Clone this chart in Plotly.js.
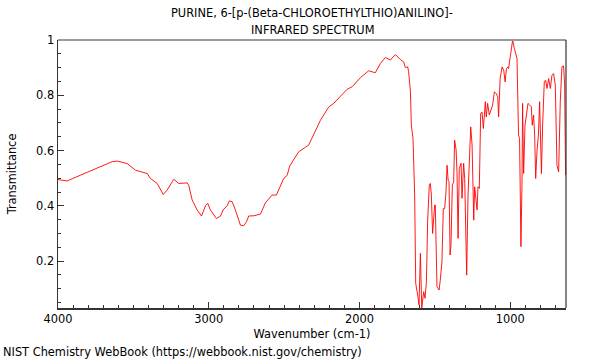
<!DOCTYPE html>
<html>
<head>
<meta charset="utf-8">
<script src="https://cdn.plot.ly/plotly-3.0.1.min.js"></script>
<style>html,body{margin:0;padding:0;background:#fff;}#chart{width:600px;height:360px;}</style>
</head>
<body>
<div id="chart"></div>
<script>
const wavenumber = [4000,3939,3851,3785,3696,3640,3607,3541,3486,3408,3387,3342,3302,3276,3232,3199,3143,3133,3110,3077,3048,3022,3007,2989,2949,2922,2905,2878,2863,2845,2823,2790,2768,2750,2735,2702,2657,2624,2580,2551,2503,2480,2463,2403,2359,2337,2259,2204,2171,2082,2049,1994,1939,1895,1861,1828,1795,1762,1729,1707,1696,1680,1674,1662,1656,1645,1634,1627,1614,1605,1596,1587,1574,1565,1556,1548,1537,1530,1523,1515,1501,1497,1486,1472,1464,1453,1444,1435,1426,1419,1412,1406,1399,1393,1384,1375,1369,1359,1353,1346,1338,1331,1326,1320,1309,1302,1293,1289,1280,1271,1262,1253,1246,1242,1236,1227,1220,1214,1205,1196,1187,1178,1169,1165,1159,1150,1139,1130,1117,1105,1094,1083,1077,1067,1054,1043,1034,1025,1014,1011,1000,984,973,964,955,945,938,929,922,918,911,902,893,882,871,860,854,845,838,831,822,813,805,793,785,774,765,756,745,734,723,712,701,690,679,668,657,646,639,633];
const transmittance = [0.495,0.49,0.511,0.527,0.547,0.56,0.562,0.553,0.529,0.517,0.499,0.481,0.441,0.457,0.496,0.481,0.483,0.475,0.421,0.385,0.363,0.40,0.409,0.385,0.354,0.363,0.385,0.40,0.418,0.415,0.385,0.33,0.328,0.342,0.363,0.364,0.37,0.411,0.439,0.439,0.499,0.51,0.544,0.596,0.612,0.62,0.71,0.758,0.771,0.822,0.831,0.864,0.889,0.882,0.916,0.937,0.928,0.948,0.93,0.921,0.901,0.903,0.885,0.813,0.692,0.644,0.439,0.119,0.077,0.041,0.228,0.03,0.089,0.065,0.125,0.342,0.475,0.481,0.439,0.30,0.403,0.403,0.107,0.095,0.131,0.197,0.39,0.39,0.451,0.547,0.493,0.487,0.222,0.258,0.475,0.487,0.638,0.602,0.523,0.282,0.535,0.554,0.554,0.427,0.554,0.499,0.185,0.149,0.439,0.56,0.686,0.62,0.451,0.348,0.469,0.403,0.385,0.469,0.463,0.735,0.74,0.68,0.759,0.777,0.722,0.771,0.729,0.747,0.765,0.813,0.807,0.795,0.722,0.861,0.903,0.891,0.849,0.897,0.903,0.897,0.94,1.0,0.97,0.952,0.934,0.656,0.644,0.252,0.475,0.771,0.517,0.692,0.729,0.771,0.765,0.759,0.692,0.729,0.656,0.499,0.602,0.656,0.777,0.517,0.692,0.849,0.855,0.825,0.861,0.825,0.873,0.879,0.837,0.547,0.523,0.777,0.903,0.907,0.837,0.511];
const titleLines = ['PURINE, 6-[p-(Beta-CHLOROETHYLTHIO)ANILINO]-', 'INFRARED SPECTRUM'];
const xTitle = 'Wavenumber (cm-1)';
const yTitle = 'Transmittance';
const footer = 'NIST Chemistry WebBook (https://webbook.nist.gov/chemistry)';

const F = 'DejaVu Sans, sans-serif';
const txt = {family: F, size: 11.4, color: '#000'};
const trace = {
  x: wavenumber, y: transmittance, type: 'scatter', mode: 'lines',
  line: {color: '#ff0000', width: 0.9}, hoverinfo: 'skip'
};
const layout = {
  width: 600, height: 360,
  margin: {l: 57.5, r: 34, t: 40, b: 52},
  paper_bgcolor: '#fff', plot_bgcolor: '#fff',
  font: txt,
  showlegend: false,
  xaxis: {
    range: [4000, 630], dtick: 1000, tick0: 0,
    showgrid: false, zeroline: false,
    showline: true, linecolor: '#333', linewidth: 1.5, mirror: false,
    ticks: 'inside', ticklen: 6, tickcolor: '#333',
    minor: {dtick: 100, ticks: 'inside', ticklen: 3, tickcolor: '#333', showgrid: false},
    tickfont: txt,
    title: {text: xTitle, standoff: 5, font: txt}
  },
  yaxis: {
    range: [0.03, 1.0005], dtick: 0.2, tick0: 0,
    showgrid: false, zeroline: false,
    showline: true, linecolor: '#333', linewidth: 1.5, mirror: false,
    ticks: 'inside', ticklen: 6, tickcolor: '#333',
    minor: {dtick: 0.05, ticks: 'inside', ticklen: 3, tickcolor: '#333', showgrid: false},
    tickfont: txt,
    title: {text: yTitle, standoff: 17, font: txt}
  },
  shapes: [
    {type: 'line', xref: 'paper', yref: 'paper', x0: 0, x1: 1, y0: 1, y1: 1, line: {color: '#999', width: 2}},
    {type: 'line', xref: 'paper', yref: 'paper', x0: 1, x1: 1, y0: 0, y1: 1, line: {color: '#333', width: 1.2}}
  ],
  annotations: [
    {text: titleLines[0], xref: 'paper', yref: 'paper', x: 0.5, xanchor: 'center', y: 1, yanchor: 'middle', yshift: 27, showarrow: false, font: txt},
    {text: titleLines[1], xref: 'paper', yref: 'paper', x: 0.5, xanchor: 'center', y: 1, yanchor: 'middle', yshift: 10, showarrow: false, font: txt},
    {text: footer, xref: 'paper', yref: 'paper', x: 0, xanchor: 'left', xshift: -57, y: 0, yanchor: 'middle', yshift: -44, showarrow: false, font: txt}
  ]
};
Plotly.newPlot('chart', [trace], layout, {staticPlot: true, displayModeBar: false});
</script>
</body>
</html>
